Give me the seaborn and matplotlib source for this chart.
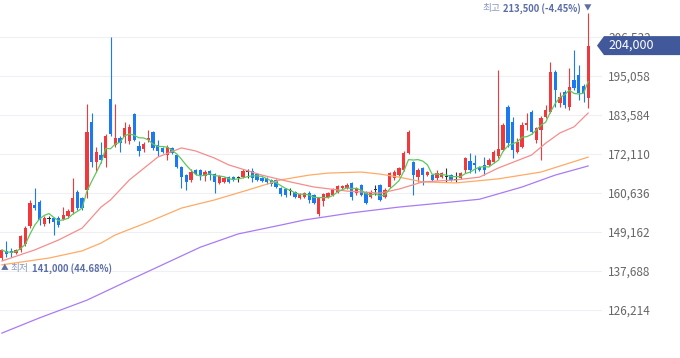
import numpy as np
import pandas as pd
import matplotlib
matplotlib.use("Agg")
import matplotlib.pyplot as plt
import seaborn as sns
from matplotlib.patches import Polygon
from matplotlib.transforms import blended_transform_factory
from matplotlib.offsetbox import TextArea, HPacker, AnnotationBbox

# ---------------- data (daily OHLC) ----------------
opens = [141500, 143600, 143600, 143000, 143900, 145600, 150900, 157100, 158000, 151500,
         153000, 153300, 153300, 153000, 153900, 155000, 160900, 159200, 161500, 181500,
         169800, 171800, 170900, 188300, 174800, 176800, 177100, 175900, 183900, 174500,
         173600, 176200, 178600, 174800, 173900, 171800, 173900, 171800, 168300, 165900,
         164500, 167400, 167400, 165600, 167100, 166200, 163600, 163900, 165300, 165300,
         165000, 165300, 166800, 167100, 166200, 165000, 165000, 164500, 164500, 162100,
         161800, 161200, 160900, 159200, 159500, 160600, 160000, 154500, 158300, 159500,
         160000, 160900, 162100, 162100, 163600, 160600, 163000, 160900, 159500, 161500,
         163000, 159500, 162400, 165000, 165900, 167400, 172400, 169800, 165300, 168000,
         165900, 165900, 165000, 165300, 165300, 165900, 164500, 165000, 167400, 170100,
         169500, 168300, 168900, 168900, 169800, 171500, 173300, 185900, 181500, 172700,
         174200, 180600, 184500, 176200, 179200, 183000, 184500, 196200, 187100, 190400,
         185900, 193900, 195400, 192100, 188600]
highs = [144200, 146500, 144500, 144200, 148300, 150900, 158600, 162100, 158600, 153900,
         153900, 153600, 153900, 156500, 155900, 165000, 161500, 159500, 186800, 184200,
         174200, 175600, 178000, 206500, 186800, 177400, 181500, 180900, 184200, 175900,
         175600, 179200, 178900, 176200, 174200, 174800, 174200, 172100, 168600, 166200,
         167700, 167700, 167700, 167400, 167400, 166500, 165900, 165300, 165600, 165600,
         165600, 167700, 167700, 168000, 166500, 165300, 165300, 164800, 164800, 162400,
         162100, 162100, 161200, 160600, 160900, 161200, 160300, 159500, 160600, 160900,
         162100, 163000, 163000, 163600, 163900, 162400, 163300, 161200, 161500, 163000,
         163300, 162100, 166800, 167400, 168300, 173000, 179200, 170000, 168000, 168300,
         167100, 166200, 167400, 166800, 168000, 166200, 166800, 166800, 171200, 172400,
         171800, 168600, 171200, 170900, 173300, 196800, 181200, 186500, 183000, 176800,
         181500, 184200, 185100, 180100, 183300, 186500, 199200, 196800, 190400, 190900,
         197400, 202700, 198300, 192700, 213500]
lows = [141000, 141800, 141800, 142700, 143300, 145000, 150300, 155600, 151200, 150900,
        151800, 148300, 150600, 152700, 153300, 154500, 155600, 155600, 159200, 168300,
        166800, 169500, 168300, 177400, 174200, 172700, 175300, 175100, 175900, 171500,
        172700, 175600, 173300, 171500, 172400, 170300, 172100, 168000, 162100, 161500,
        163900, 165900, 164500, 164200, 164500, 160600, 163300, 163600, 163600, 164200,
        163900, 165000, 165000, 163900, 164200, 163900, 163300, 162700, 162100, 159800,
        159500, 160000, 159200, 158900, 159200, 157700, 157400, 153900, 156800, 159200,
        159800, 160600, 161800, 161800, 158600, 160000, 159800, 157400, 159200, 160000,
        158300, 159200, 162100, 164500, 165600, 167100, 172100, 160000, 163900, 163000,
        165600, 164200, 164500, 165000, 163900, 164200, 163900, 164800, 166500, 166500,
        166500, 167100, 165900, 168600, 169500, 170900, 173000, 174200, 170900, 172400,
        173900, 179200, 178000, 175300, 170300, 182700, 184200, 185900, 185900, 185600,
        185100, 190900, 188000, 187400, 185600]
closes = [143900, 142700, 143000, 143900, 148000, 150300, 157700, 156200, 152700, 153300,
          153000, 152100, 151200, 154200, 155300, 159200, 156200, 156200, 178600, 169800,
          172700, 170300, 177400, 178000, 176800, 175300, 179800, 180100, 176200, 173000,
          175100, 176800, 173900, 173000, 172700, 174200, 172400, 168300, 165300, 163900,
          166800, 166200, 165900, 166800, 165900, 163900, 165600, 165000, 163900, 164500,
          165000, 167100, 166800, 165000, 164500, 164200, 163900, 163300, 162400, 160300,
          160000, 161200, 159500, 160300, 160600, 158600, 157700, 159200, 160300, 160600,
          161800, 162700, 162700, 163000, 159500, 162100, 160000, 157700, 160900, 161500,
          158600, 161500, 166500, 166800, 168000, 172400, 178600, 165900, 167400, 165900,
          166800, 164500, 166500, 166500, 165300, 164500, 164500, 166500, 170900, 167400,
          168900, 167400, 167400, 170300, 172700, 173600, 180600, 175300, 173300, 175600,
          180600, 181200, 178600, 179800, 182700, 185100, 196200, 190900, 188900, 186500,
          191800, 191500, 190100, 190100, 204000]

# moving averages (candle index, price)
ma20_idx = [0, 7, 12, 17, 21, 23, 27, 33, 38, 41, 45, 48, 55, 61, 66, 73, 80, 84, 89,
            96, 101, 105, 112, 115, 118, 121, 124]
ma20_val = [140600, 143900, 146800, 150300, 156500, 158600, 164500, 171200, 173900,
            173000, 170900, 168900, 165900, 163900, 162400, 161200, 160600, 161800,
            163900, 164500, 165300, 168000, 171800, 175300, 178300, 180100, 184200]
ma60_idx = [0, 10, 17, 21, 24, 31, 38, 45, 52, 59, 65, 69, 76, 80, 84, 89, 96, 105, 114, 124]
ma60_val = [139500, 141500, 143600, 145900, 148300, 152100, 156200, 158600, 161500,
            164500, 165900, 166500, 166800, 166200, 165300, 163900, 163600, 164800,
            166800, 171200]
ma120_idx = [0, 8, 18, 27, 42, 50, 59, 64, 74, 84, 93, 101, 110, 117, 124]
ma120_val = [119400, 123900, 129100, 135000, 144700, 148600, 151200, 152700, 154800,
             156500, 157700, 158800, 162400, 165900, 168600]

y_ticks = [126214, 137688, 149162, 160636, 172110, 183584, 195058, 206532]
y_tick_labels = ["126,214", "137,688", "149,162", "160,636", "172,110", "183,584",
                 "195,058", "206,532"]
high_word = "최고"
high_text = "213,500 (-4.45%)"
low_word = "최저"
low_text = "141,000 (44.68%)"
last_text = "204,000"

# ---------------- style ----------------
sns.set_style("white")
plt.rcParams['font.family'] = ['Noto Sans CJK KR', 'DejaVu Sans']

RED = '#f0393d'
BLUE = '#1c7af0'
DOJI = '#333333'
LABEL = '#5b6ea6'
LABEL_LIGHT = '#8a98bf'

fig = plt.figure(figsize=(6.8, 3.58), dpi=100)
ax = fig.add_axes([0, 0, 602 / 680, 1])

n = len(closes)
df = pd.DataFrame({'i': np.arange(n), 'open': opens, 'high': highs,
                   'low': lows, 'close': closes})
df['ma5'] = df['close'].rolling(5, min_periods=1).mean()

col = np.where(df['close'] > df['open'], RED,
               np.where(df['close'] < df['open'], BLUE, DOJI))

# wicks and bodies
ax.vlines(df['i'], df['low'], df['high'], colors=col, linewidth=0.8, zorder=3)
body_lo = np.minimum(df['open'], df['close'])
body_h = np.maximum(np.abs(df['close'] - df['open']), 260)
ax.bar(df['i'], body_h, bottom=body_lo, width=0.7, color=col, linewidth=0, zorder=4)

# moving averages
sns.lineplot(x=ma120_idx, y=ma120_val, color='#a97bf2', linewidth=0.9, ax=ax, zorder=5)
sns.lineplot(x=ma60_idx, y=ma60_val, color='#ffaa66', linewidth=0.9, ax=ax, zorder=5)
sns.lineplot(x=ma20_idx, y=ma20_val, color='#f68d8d', linewidth=0.9, ax=ax, zorder=5)
sns.lineplot(data=df, x='i', y='ma5', color='#5cc95c', linewidth=0.9, ax=ax, zorder=5)

ax.set_xlim(-0.36, 126.9)
ax.set_ylim(112093, 217417)
ax.set_yticks(y_ticks)
ax.set_yticklabels(y_tick_labels)
ax.yaxis.tick_right()
ax.tick_params(axis='y', length=0, pad=4.5, labelsize=8.5, labelcolor='#666666')
ax.set_xticks([])
ax.grid(axis='y', color='#eef0f5', linewidth=0.8)
ax.grid(axis='x', visible=False)
ax.set_axisbelow(True)
for s in ax.spines.values():
    s.set_visible(False)
ax.set_xlabel('')
ax.set_ylabel('')

# high / low markers
hi_i = int(np.argmax(highs)); hi_v = highs[hi_i]
lo_i = int(np.argmin(lows)); lo_v = lows[lo_i]

def label_box(parts):
    return HPacker(children=[TextArea(t, textprops=p) for t, p in parts],
                   align='center', pad=0, sep=2)

light = dict(fontsize=7, color=LABEL_LIGHT)
bold = dict(fontsize=6.8, color=LABEL, fontweight='bold')
tri = dict(fontsize=5.5, color=LABEL)

hi_box = label_box([(high_word, light), (high_text, bold), ('▼', tri)])
ab_hi = AnnotationBbox(hi_box, (hi_i, hi_v), xybox=(2.3, 3.8), boxcoords='offset points',
                       box_alignment=(1, 0.5), frameon=False, pad=0, zorder=8,
                       annotation_clip=False)
ax.add_artist(ab_hi)

lo_box = label_box([('▲', tri), (low_word, light), (low_text, bold)])
ab_lo = AnnotationBbox(lo_box, (lo_i, lo_v), xybox=(-0.9, -6.3), boxcoords='offset points',
                       box_alignment=(0, 0.5), frameon=False, pad=0, zorder=8,
                       annotation_clip=False)
ax.add_artist(ab_lo)

# last price tag
trans = blended_transform_factory(fig.transFigure, ax.transData)
last = closes[-1]
half = 9.5 * (217417 - 112093) / 358
poly = Polygon([[597 / 680, last], [604 / 680, last + half], [1.0, last + half],
                [1.0, last - half], [604 / 680, last - half]], closed=True,
               transform=trans, facecolor='#41599a', edgecolor='none',
               clip_on=False, zorder=10)
fig.add_artist(poly)
fig.text(608 / 680, last, last_text, transform=trans, ha='left', va='center',
         fontsize=9, color='white', zorder=11)

fig.savefig('out.png', dpi=100)
